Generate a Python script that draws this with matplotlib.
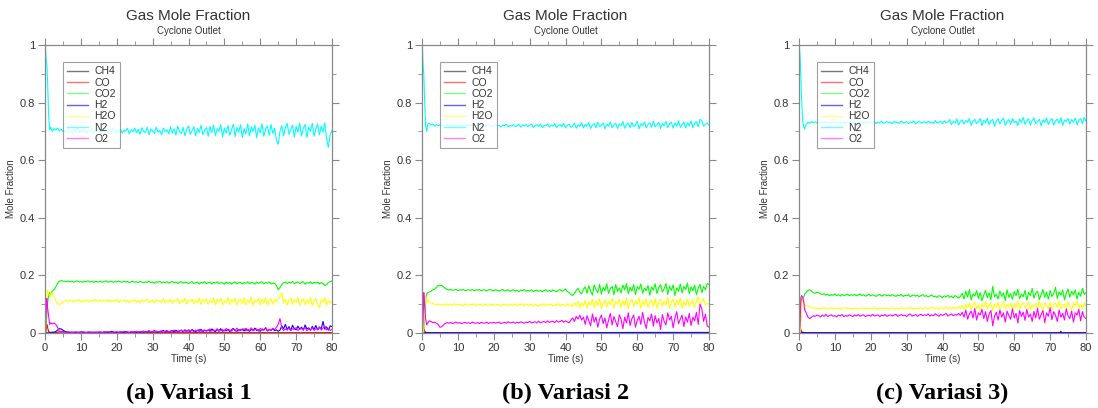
import numpy as np
import matplotlib
matplotlib.use("Agg")
import matplotlib.pyplot as plt
from matplotlib.ticker import MultipleLocator

plt.rcParams["font.family"] = ["Liberation Sans", "DejaVu Sans"]

# time grid: fine steps over the start-up transient, then every half second
t_early = [0, 0.1, 0.3, 0.5, 0.7, 1.0, 1.3, 1.6, 2.0, 2.5, 3.0, 3.5, 4.0, 4.5, 5.0]
t_main = np.concatenate([t_early, np.arange(5.5, 80.5, 0.5)])

species = ["CH4", "CO", "CO2", "H2", "H2O", "N2", "O2"]
line_colors = ["#555555", "#ff0000", "#00ff00", "#0000ff", "#ffff00", "#00ffff", "#ff00ff"]
legend_colors = ["#777777", "#ff7070", "#80ff80", "#6060ff", "#ffff80", "#70ffff", "#ff80ff"]
captions = ["(a) Variasi 1", "(b) Variasi 2", "(c) Variasi 3)"]

# ---- (a) Variasi 1, values in thousandths of mole fraction ----
n2_a = [0, 1000, 950, 935, 880, 760, 705, 715, 700, 710, 705, 712, 702, 708, 700,
        703, 697, 708, 701, 694, 706, 699, 711, 696, 704, 698, 707, 693, 702, 700, 709, 695, 704, 699, 712,
        693, 706, 700, 710, 695, 703, 699, 713, 692, 705, 698, 709, 694, 704, 701, 711, 691, 706, 699, 712,
        695, 707, 690, 713, 700, 696, 714, 689, 708, 702, 693, 715, 697, 704, 688, 712, 699, 706, 691, 716,
        694, 709, 687, 718, 700, 692, 714, 685, 708, 719, 690, 703, 716, 684, 710, 697, 721, 688, 705, 713,
        683, 717, 696, 722, 686, 709, 700, 724, 681, 712, 694, 720, 687, 706, 725, 682, 714, 698, 723, 679,
        710, 691, 726, 684, 716, 700, 722, 678, 712, 695, 727, 683, 708, 719, 686, 724, 693, 711, 670, 655,
        700, 720, 684, 713, 728, 690, 706, 722, 680, 717, 697, 729, 684, 711, 724, 679, 715, 701, 728, 683,
        709, 726, 688, 719, 698, 730, 672, 645, 690, 703]
co2_a = [0, 0, 20, 60, 100, 130, 140, 135, 145, 150, 160, 172, 180, 182, 180,
         180, 178, 181, 177, 180, 176, 179, 181, 177, 179, 176, 180, 178, 181, 177, 179, 176, 180, 178, 177,
         180, 176, 179, 181, 177, 178, 180, 176, 179, 177, 181, 178, 176, 180, 177, 179, 175, 178, 180, 176,
         178, 175, 179, 177, 174, 178, 176, 180, 175, 177, 173, 178, 176, 179, 174, 177, 175, 178, 173, 176,
         179, 174, 177, 172, 176, 178, 173, 177, 175, 171, 176, 178, 172, 175, 177, 170, 176, 174, 178, 171,
         175, 177, 170, 176, 173, 178, 171, 175, 174, 169, 177, 172, 176, 170, 175, 178, 171, 174, 176, 170,
         175, 173, 178, 171, 176, 174, 170, 177, 172, 176, 178, 171, 175, 173, 177, 170, 174, 172, 165, 150,
         158, 168, 174, 177, 172, 176, 174, 179, 171, 175, 177, 172, 176, 178, 170, 175, 173, 178, 171, 176,
         174, 177, 170, 175, 172, 165, 168, 176, 178, 181]
h2o_a = [0, 0, 60, 120, 150, 140, 125, 135, 140, 125, 110, 105, 98, 102, 108,
         110, 113, 108, 115, 111, 107, 114, 110, 116, 109, 113, 107, 115, 111, 108, 114, 110, 117, 109, 112,
         115, 108, 113, 110, 116, 107, 112, 114, 109, 117, 106, 113, 111, 115, 108, 112, 105, 114, 110, 116,
         107, 113, 104, 115, 109, 112, 118, 105, 111, 114, 103, 116, 109, 112, 106, 119, 104, 113, 108, 117,
         102, 114, 110, 120, 103, 112, 107, 121, 100, 115, 109, 118, 101, 113, 106, 122, 99, 116, 108, 119,
         100, 114, 105, 123, 98, 117, 110, 121, 97, 112, 104, 124, 99, 116, 108, 120, 96, 113, 118, 101,
         122, 97, 115, 106, 125, 95, 114, 109, 120, 98, 117, 103, 123, 96, 112, 119, 100, 116, 108, 122,
         125, 140, 104, 118, 97, 113, 121, 99, 115, 107, 124, 95, 111, 119, 98, 116, 105, 122, 94, 113,
         120, 99, 88, 117, 108, 123, 96, 114, 104, 110]
o2_a = [0, 0, 60, 120, 90, 60, 30, 35, 32, 35, 30, 20, 5, 3, 4,
        3, 2, 4, 3, 2, 3, 4, 2, 3, 2, 4, 3, 2, 3, 4, 2, 3, 3, 2, 4,
        3, 2, 4, 3, 5, 3, 2, 4, 3, 5, 2, 4, 3, 6, 3, 4, 2, 5, 3, 4,
        6, 3, 5, 4, 7, 3, 5, 8, 4, 6, 3, 7, 5, 4, 8, 3, 6, 9, 4, 7,
        5, 10, 4, 7, 6, 11, 5, 8, 4, 12, 6, 9, 5, 10, 7, 13, 5, 8, 11, 6,
        9, 14, 6, 11, 8, 15, 5, 10, 12, 7, 16, 8, 11, 6, 14, 9, 17, 7, 12, 10,
        15, 7, 13, 9, 18, 8, 11, 14, 6, 16, 10, 12, 19, 8, 13, 9, 17, 11, 20, 30,
        50, 18, 9, 14, 10, 17, 8, 15, 12, 19, 9, 13, 16, 10, 20, 8, 14, 11, 18, 9,
        15, 12, 22, 10, 17, 24, 11, 14, 9, 13]
h2_a = [0, 0, 0, 0, 0, 0, 0, 2, 3, 3, 5, 10, 15, 14, 10,
        6, 4, 3, 2, 3, 2, 2, 3, 2, 4, 3, 2, 2, 3, 2, 3, 2, 2, 3, 2,
        3, 2, 4, 3, 2, 3, 6, 3, 2, 3, 2, 4, 3, 2, 5, 3, 2, 4, 3, 5,
        3, 4, 2, 6, 3, 5, 4, 7, 3, 5, 8, 4, 3, 6, 5, 9, 4, 7, 3, 6,
        8, 4, 10, 5, 7, 9, 4, 11, 6, 8, 5, 12, 7, 4, 10, 6, 13, 5, 9, 7,
        11, 6, 14, 8, 5, 12, 9, 15, 6, 10, 7, 13, 5, 11, 16, 8, 6, 12, 9, 14,
        7, 15, 10, 6, 13, 8, 17, 9, 11, 6, 14, 10, 18, 7, 12, 9, 15, 8, 11, 6,
        10, 25, 14, 30, 12, 22, 9, 27, 15, 11, 24, 13, 20, 10, 28, 14, 18, 9, 23, 12,
        26, 11, 19, 15, 40, 13, 21, 10, 25, 22]
t_co_a = [0, 0.1, 0.3, 0.5, 0.7, 1.0, 1.6, 3.0, 4.0, 5.0, 6.0, 80]
co_a = [0, 0, 10, 30, 20, 5, 1, 1, 4, 5, 1, 1]
t_ch4_a = [0, 80]
ch4_a = [0, 1]

# ---- (b) Variasi 2 ----
n2_b = [0, 1000, 930, 900, 820, 720, 700, 725, 728, 722, 726, 718, 724, 720, 722,
        722, 719, 723, 718, 721, 724, 717, 722, 720, 718, 723, 719, 721, 716, 722, 720, 724, 717, 721, 719,
        723, 718, 720, 722, 716, 721, 724, 718, 720, 717, 723, 719, 721, 715, 722, 720, 725, 716, 721, 718,
        723, 717, 720, 725, 715, 722, 719, 724, 716, 721, 726, 714, 720, 723, 717, 725, 713, 721, 719, 726,
        715, 722, 718, 727, 713, 720, 724, 716, 728, 712, 721, 725, 714, 719, 729, 711, 723, 717, 730, 712,
        724, 718, 731, 710, 722, 727, 713, 732, 716, 721, 729, 709, 725, 718, 733, 712, 723, 728, 710, 726,
        719, 734, 711, 724, 729, 713, 731, 717, 722, 735, 709, 727, 720, 733, 712, 725, 730, 714, 736, 716,
        723, 731, 710, 728, 719, 735, 713, 726, 732, 711, 729, 718, 737, 714, 724, 733, 712, 730, 720, 736,
        713, 727, 734, 716, 742, 738, 718, 725, 729, 722]
co2_b = [0, 0, 0, 10, 40, 100, 135, 140, 142, 145, 150, 152, 158, 165, 163,
         166, 160, 155, 151, 149, 152, 148, 150, 151, 147, 150, 149, 151, 147, 149, 150, 148, 151, 147, 150,
         149, 151, 147, 149, 150, 146, 149, 151, 148, 146, 150, 148, 145, 149, 151, 146, 148, 150, 145, 148,
         150, 146, 148, 144, 149, 147, 151, 145, 148, 146, 150, 144, 147, 149, 145, 148, 143, 147, 150, 145,
         148, 144, 150, 146, 143, 149, 151, 145, 148, 153, 144, 140, 134, 130, 138, 148, 155, 141, 136, 152,
         160, 138, 164, 145, 132, 167, 150, 140, 169, 135, 158, 147, 171, 137, 155, 162, 133, 168, 144, 157,
         139, 166, 150, 172, 136, 159, 145, 168, 133, 161, 152, 170, 138, 156, 147, 165, 131, 160, 149, 171,
         137, 158, 168, 142, 154, 172, 134, 163, 148, 167, 130, 157, 145, 170, 139, 162, 151, 173, 136, 160,
         147, 166, 133, 155, 169, 140, 162, 150, 172, 168]
h2o_b = [0, 0, 0, 20, 80, 130, 115, 108, 112, 105, 102, 100, 98, 101, 97,
         98, 100, 97, 101, 96, 99, 98, 102, 96, 100, 97, 99, 95, 101, 98, 96, 100, 97, 102, 95,
         99, 97, 101, 96, 100, 98, 95, 101, 97, 99, 96, 100, 98, 94, 101, 97, 99, 95, 100, 98,
         96, 101, 95, 99, 97, 102, 94, 100, 98, 96, 101, 95, 99, 97, 93, 100, 96, 102, 94, 99,
         97, 101, 94, 99, 96, 103, 93, 100, 98, 95, 102, 94, 99, 92, 105, 96, 110, 88, 104, 93,
         114, 86, 108, 97, 118, 89, 112, 95, 120, 85, 106, 116, 90, 111, 98, 122, 87, 109, 101, 117,
         88, 113, 95, 121, 84, 107, 118, 92, 110, 99, 123, 86, 112, 96, 119, 89, 105, 115, 91, 120,
         85, 108, 117, 93, 111, 97, 124, 87, 106, 119, 90, 114, 98, 121, 86, 110, 95, 118, 92, 107,
         116, 88, 112, 125, 94, 108, 120, 97, 103, 100]
o2_b = [0, 0, 40, 140, 100, 50, 28, 35, 42, 40, 36, 38, 34, 30, 20,
        22, 28, 33, 36, 34, 37, 33, 35, 38, 34, 36, 33, 35, 37, 34, 36, 33, 38, 35, 34,
        36, 33, 37, 35, 34, 38, 33, 36, 35, 37, 34, 36, 38, 33, 35, 37, 34, 39, 35, 36,
        38, 34, 37, 35, 39, 36, 34, 38, 36, 40, 35, 37, 39, 35, 41, 36, 38, 40, 36, 42,
        37, 39, 41, 36, 43, 38, 40, 44, 37, 42, 39, 35, 45, 52, 40, 58, 48, 62, 45, 55,
        30, 60, 42, 25, 66, 38, 55, 20, 48, 62, 33, 52, 18, 45, 68, 28, 57, 40, 22, 63,
        47, 15, 55, 35, 70, 26, 50, 62, 20, 44, 58, 30, 72, 38, 16, 54, 42, 66, 24, 60,
        35, 50, 12, 64, 40, 28, 70, 45, 58, 18, 52, 74, 32, 48, 62, 22, 56, 38, 68, 26,
        55, 42, 72, 30, 100, 85, 40, 65, 25, 20]
t_h2_b = [0, 0.5, 1.0, 2.0, 40, 60, 80]
h2_b = [0, 0, 2, 1, 1, 2, 2]
t_co_b = [0, 0.3, 0.5, 0.7, 1.0, 2.0, 80]
co_b = [0, 5, 15, 8, 2, 1, 1]
t_ch4_b = [0, 80]
ch4_b = [0, 1]

# ---- (c) Variasi 3 ----
n2_c = [0, 1000, 960, 900, 820, 740, 715, 708, 725, 732, 728, 734, 730, 733, 729,
        731, 728, 733, 729, 734, 730, 732, 727, 733, 730, 735, 729, 731, 728, 734, 730, 732, 729, 735, 728,
        732, 730, 734, 727, 733, 731, 729, 735, 728, 732, 730, 734, 727, 733, 729, 736, 728, 731, 734, 729,
        733, 727, 735, 730, 732, 728, 736, 729, 731, 734, 727, 733, 730, 737, 726, 732, 735, 728, 731, 734,
        728, 736, 730, 733, 727, 738, 729, 732, 735, 726, 737, 730, 733, 741, 724, 736, 729, 743, 722, 735,
        740, 725, 738, 731, 744, 721, 736, 742, 727, 734, 745, 720, 739, 730, 746, 723, 737, 742, 718, 735,
        744, 726, 738, 747, 721, 734, 741, 725, 745, 730, 736, 720, 743, 732, 748, 724, 737, 744, 722, 739,
        746, 727, 735, 742, 719, 740, 731, 747, 724, 738, 745, 722, 736, 743, 728, 748, 721, 739, 734, 745,
        725, 741, 732, 746, 723, 738, 744, 727, 749, 735]
co2_c = [0, 0, 10, 60, 120, 110, 125, 135, 142, 148, 150, 145, 140, 138, 142,
         140, 136, 133, 137, 131, 135, 129, 134, 131, 136, 130, 133, 128, 134, 130, 132, 135, 129, 133, 131,
         134, 129, 132, 136, 130, 133, 128, 131, 135, 129, 133, 130, 127, 132, 134, 128, 131, 133, 129, 132,
         128, 133, 130, 127, 132, 129, 134, 127, 131, 129, 133, 126, 130, 132, 128, 131, 126, 130, 133, 127,
         130, 125, 129, 132, 126, 128, 124, 130, 127, 123, 129, 126, 131, 124, 128, 122, 130, 126, 121, 127,
         138, 118, 145, 125, 150, 115, 136, 128, 147, 120, 140, 112, 132, 148, 122, 139, 116, 162, 125, 135,
         118, 146, 127, 139, 113, 150, 124, 137, 117, 144, 129, 152, 119, 135, 126, 148, 114, 141, 130, 155,
         121, 138, 145, 116, 133, 151, 124, 142, 118, 147, 127, 136, 159, 120, 143, 131, 149, 115, 138, 153,
         124, 145, 132, 150, 118, 141, 128, 155, 134, 140]
h2o_c = [0, 0, 0, 40, 100, 120, 105, 98, 95, 92, 90, 88, 86, 87, 85,
         86, 84, 88, 85, 87, 83, 86, 88, 84, 86, 85, 87, 83, 86, 88, 84, 87, 85, 86, 84,
         87, 85, 83, 86, 88, 84, 86, 85, 87, 83, 86, 88, 84, 85, 87, 83, 86, 88, 85, 84,
         86, 88, 83, 87, 85, 84, 88, 86, 83, 87, 85, 89, 84, 86, 83, 88, 85, 87, 84, 89,
         85, 83, 88, 86, 90, 84, 87, 83, 89, 85, 86, 91, 84, 88, 83, 90, 85, 87, 92, 84,
         96, 82, 100, 88, 104, 80, 94, 108, 85, 98, 79, 102, 90, 110, 83, 96, 105, 78, 100, 88,
         106, 82, 95, 109, 84, 99, 91, 104, 78, 101, 87, 111, 82, 97, 105, 86, 93, 108, 80, 99,
         89, 103, 84, 110, 92, 79, 105, 95, 86, 107, 81, 99, 104, 88, 112, 83, 96, 101, 85, 108,
         91, 80, 104, 94, 110, 86, 98, 83, 106, 92]
o2_c = [0, 0, 30, 120, 130, 125, 110, 80, 70, 55, 50, 55, 60, 58, 62,
        60, 56, 62, 58, 64, 57, 61, 63, 58, 60, 56, 62, 59, 64, 57, 61, 58, 63, 60, 57,
        62, 59, 64, 58, 61, 63, 57, 60, 62, 58, 65, 59, 61, 63, 57, 62, 60, 64, 58, 61,
        63, 59, 62, 65, 58, 61, 64, 60, 62, 57, 63, 66, 59, 61, 64, 58, 62, 65, 60, 63,
        61, 66, 59, 63, 60, 67, 62, 58, 65, 61, 64, 68, 59, 63, 66, 60, 64, 62, 68, 61,
        72, 55, 80, 48, 66, 76, 52, 85, 45, 70, 62, 82, 50, 74, 40, 66, 78, 25, 58, 72,
        45, 80, 55, 70, 38, 76, 60, 48, 84, 52, 68, 35, 78, 58, 72, 44, 82, 55, 66, 40,
        75, 52, 86, 48, 64, 78, 36, 70, 58, 88, 46, 74, 62, 40, 80, 55, 68, 45, 84, 60,
        50, 76, 38, 70, 62, 82, 42, 74, 55, 50]
t_h2_c = [0, 0.5, 1.0, 2.0, 72.8, 73.0, 73.2, 80]
h2_c = [0, 0, 2, 1, 1, 6, 1, 1]
t_co_c = [0, 0.3, 0.5, 0.7, 1.0, 2.0, 80]
co_c = [0, 5, 12, 6, 2, 1, 1]
t_ch4_c = [0, 80]
ch4_c = [0, 1]

panels = [
    {"CH4": (t_ch4_a, ch4_a), "CO": (t_co_a, co_a), "CO2": (t_main, co2_a), "H2": (t_main, h2_a),
     "H2O": (t_main, h2o_a), "N2": (t_main, n2_a), "O2": (t_main, o2_a)},
    {"CH4": (t_ch4_b, ch4_b), "CO": (t_co_b, co_b), "CO2": (t_main, co2_b), "H2": (t_h2_b, h2_b),
     "H2O": (t_main, h2o_b), "N2": (t_main, n2_b), "O2": (t_main, o2_b)},
    {"CH4": (t_ch4_c, ch4_c), "CO": (t_co_c, co_c), "CO2": (t_main, co2_c), "H2": (t_h2_c, h2_c),
     "H2O": (t_main, h2o_c), "N2": (t_main, n2_c), "O2": (t_main, o2_c)},
]

W, H = 1098, 408
fig = plt.figure(figsize=(W / 100, H / 100), dpi=100)
lefts = [45, 422, 799]
ax_w, ax_top, ax_bot = 287, 45, 333
grey = "#888888"

for i, data in enumerate(panels):
    ax = fig.add_axes([lefts[i] / W, 1 - ax_bot / H, ax_w / W, (ax_bot - ax_top) / H])
    for name, color in zip(species, line_colors):
        t, v = data[name]
        n = min(len(t), len(v))
        ax.plot(np.asarray(t)[:n], np.asarray(v[:n]) / 1000.0, color=color, lw=0.8)

    ax.set_xlim(0, 80)
    ax.set_ylim(0, 1)
    ax.xaxis.set_major_locator(MultipleLocator(10))
    ax.xaxis.set_minor_locator(MultipleLocator(5))
    ax.yaxis.set_major_locator(MultipleLocator(0.2))
    ax.yaxis.set_minor_locator(MultipleLocator(0.1))
    ax.yaxis.set_major_formatter(plt.FuncFormatter(lambda y, _: f"{y:g}"))
    ax.tick_params(which="both", direction="out", top=True, right=True, color=grey,
                   labelsize=8, labelcolor="#333333", pad=2)
    ax.tick_params(which="major", length=5, width=0.8)
    ax.tick_params(which="minor", length=3, width=0.6)
    for s in ax.spines.values():
        s.set_color(grey)
        s.set_linewidth(0.9)

    ax.set_xlabel("Time (s)", fontsize=7, color="#333333", labelpad=1)
    ax.set_ylabel("Mole Fraction", fontsize=7, color="#333333", labelpad=3)

    handles = [plt.Line2D([], [], color=c, lw=1.0) for c in legend_colors]
    leg = ax.legend(handles, species, loc="upper left", bbox_to_anchor=(0.063, 0.94),
                    fontsize=7.5, frameon=True, fancybox=False, handlelength=2.0,
                    handletextpad=0.6, labelspacing=0.12, borderpad=0.4, borderaxespad=0)
    leg.get_frame().set_edgecolor(grey)
    leg.get_frame().set_linewidth(0.8)
    for txt in leg.get_texts():
        txt.set_color("#333333")

    cx = (lefts[i] + ax_w / 2) / W
    fig.text(cx, 1 - 16 / H, "Gas Mole Fraction", ha="center", va="center",
             fontsize=11, color="#333333")
    fig.text(cx, 1 - 31 / H, "Cyclone Outlet", ha="center", va="center",
             fontsize=7, color="#333333")
    fig.text(cx, 1 - 393 / H, captions[i], ha="center", va="center",
             fontsize=17.5, fontweight="bold", family=["Liberation Serif", "DejaVu Serif"])

fig.savefig("out.png", dpi=100)
